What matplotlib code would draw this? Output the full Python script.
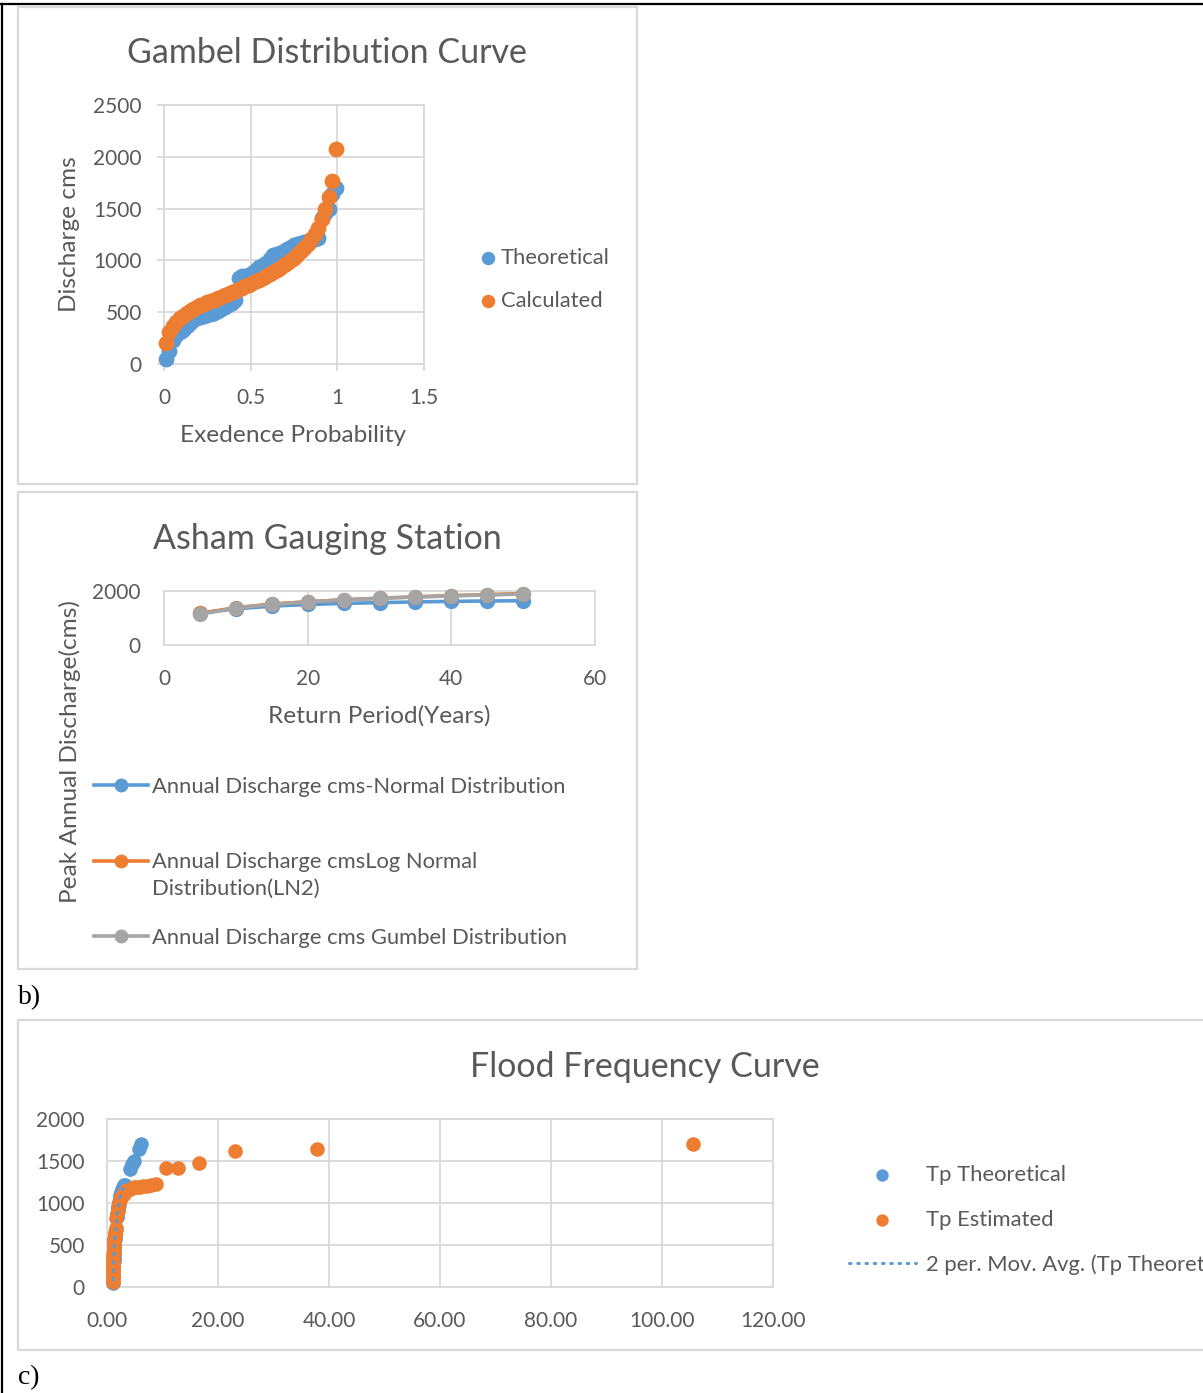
import matplotlib
matplotlib.use("Agg")
import matplotlib.pyplot as plt
from matplotlib.patches import Rectangle
from matplotlib.lines import Line2D
from matplotlib.ticker import FormatStrFormatter
import pandas as pd

W, H = 1203, 1393
plt.rcParams['font.family'] = ['Lato', 'DejaVu Sans']

TXT = '#595959'
GRID = '#D9D9D9'
BLUE = '#5B9BD5'
ORANGE = '#ED7D31'
GREY = '#A5A5A5'

# ---------------- Chart a) Gambel distribution curve ----------------
prob = [0.01, 0.03, 0.05, 0.07, 0.09, 0.11, 0.13, 0.15, 0.17, 0.19,
        0.21, 0.23, 0.25, 0.27, 0.29, 0.31, 0.33, 0.35, 0.37, 0.39,
        0.41, 0.43, 0.45, 0.47, 0.49, 0.51, 0.53, 0.55, 0.57, 0.59,
        0.61, 0.63, 0.65, 0.67, 0.69, 0.71, 0.73, 0.75, 0.77, 0.79,
        0.81, 0.83, 0.85, 0.87, 0.89, 0.91, 0.93, 0.95, 0.97, 0.99]
q_theoretical = [45, 130, 230, 280, 310, 330, 370, 400, 420, 440,
                 455, 465, 475, 485, 495, 510, 530, 550, 570, 590,
                 620, 830, 845, 850, 860, 875, 910, 940, 955, 975,
                 1010, 1050, 1065, 1075, 1090, 1110, 1130, 1145, 1160, 1170,
                 1180, 1190, 1200, 1210, 1220, 1410, 1460, 1500, 1640, 1700]
q_calculated = [205, 310, 365, 405, 440, 465, 490, 512, 532, 550,
                566, 580, 594, 608, 622, 636, 650, 664, 678, 692,
                706, 720, 735, 750, 766, 782, 798, 815, 832, 850,
                868, 888, 908, 930, 952, 975, 1000, 1027, 1056, 1088,
                1122, 1160, 1202, 1250, 1310, 1400, 1500, 1615, 1770, 2080]

# ---------------- Chart b) Asham gauging station ----------------
return_period = [5, 10, 15, 20, 25, 30, 35, 40, 45, 50]
q_normal = [1187, 1340, 1440, 1500, 1540, 1570, 1595, 1615, 1630, 1640]
q_lognormal = [1170, 1385, 1515, 1605, 1675, 1735, 1785, 1830, 1868, 1905]
q_gumbel = [1137, 1372, 1505, 1597, 1669, 1727, 1776, 1818, 1855, 1888]

# ---------------- Chart c) Flood frequency curve ----------------
tp_theoretical = [1.10, 1.12, 1.15, 1.17, 1.18, 1.19, 1.21, 1.23, 1.24, 1.25,
                  1.26, 1.27, 1.28, 1.29, 1.30, 1.31, 1.33, 1.35, 1.37, 1.39,
                  1.42, 1.75, 1.78, 1.79, 1.81, 1.84, 1.92, 1.99, 2.03, 2.08,
                  2.18, 2.30, 2.35, 2.38, 2.43, 2.50, 2.58, 2.64, 2.70, 2.78,
                  2.86, 2.95, 3.05, 3.15, 3.25, 4.10, 4.50, 4.80, 5.70, 6.20]
tp_estimated = [105.5, 37.8, 23.0, 16.5, 12.8, 10.6, 8.9, 8.0, 7.2, 6.5,
                5.9, 5.4, 4.9, 4.5, 4.1, 3.8, 3.5, 3.2, 3.0, 2.8,
                2.6, 2.4, 2.2, 2.0, 1.9, 1.8, 1.7, 1.6, 1.55, 1.5,
                1.45, 1.4, 1.35, 1.3, 1.27, 1.24, 1.21, 1.19, 1.17, 1.15,
                1.13, 1.12, 1.10, 1.09, 1.08, 1.07, 1.06, 1.05, 1.04, 1.03]
q_estimated = [1702, 1643, 1623, 1478, 1415, 1415, 1226, 1215, 1205, 1200,
               1195, 1190, 1185, 1180, 1170, 1160, 1150, 1130, 1110, 1090,
               1070, 1040, 1000, 960, 920, 870, 820, 700, 680, 650,
               620, 600, 570, 540, 510, 480, 450, 420, 390, 360,
               330, 300, 270, 240, 210, 180, 150, 120, 90, 60]


fig = plt.figure(figsize=(W / 100, H / 100), dpi=100)


def rect(x0, y0, x1, y1):
    return [x0 / W, 1 - y1 / H, (x1 - x0) / W, (y1 - y0) / H]


def fx(px):
    return px / W


def fy(py):
    return 1 - py / H


TITLE_FS = 24.5
LABEL_FS = 17.6
LEG_FS = 15.8
TICK_FS = 15

# page frame (black) and chart panels (light grey)
fig.add_artist(Line2D([0, 1], [fy(4), fy(4)], color='black', lw=1.6))
fig.add_artist(Line2D([fx(2), fx(2)], [fy(4), 0], color='black', lw=1.6))
for (x0, y0, x1, y1) in [(18, 7, 637, 484), (18, 492, 637, 969), (18, 1020, 1215, 1350)]:
    fig.add_artist(Rectangle((fx(x0), fy(y1)), (x1 - x0) / W, (y1 - y0) / H,
                             transform=fig.transFigure, fill=False, ec=GRID, lw=1.6))
fig.text(fx(18), fy(998), 'b)', family='Liberation Serif', fontsize=20, va='center', ha='left', color='black')
fig.text(fx(18), fy(1378), 'c)', family='Liberation Serif', fontsize=20, va='center', ha='left', color='black')


def style(ax, ticklen):
    for s in ax.spines.values():
        s.set_color(GRID)
        s.set_linewidth(1.3)
    ax.grid(True, color=GRID, lw=1.3)
    ax.set_axisbelow(True)
    ax.tick_params(colors=TXT, labelsize=TICK_FS, length=ticklen, width=1.3)
    ax.tick_params(color=GRID)


# ---------- a) ----------
ax1 = fig.add_axes(rect(164, 105, 424, 364))
style(ax1, 5)
ax1.tick_params(axis='y', pad=11)
ax1.tick_params(axis='x', pad=12)
ax1.scatter(prob, q_theoretical, s=130, color=BLUE, lw=0, label='Theoretical', clip_on=False, zorder=3)
ax1.scatter(prob, q_calculated, s=130, color=ORANGE, lw=0, label='Calculated', clip_on=False, zorder=4)
ax1.set_xlim(0, 1.5)
ax1.set_ylim(0, 2500)
ax1.set_xticks([0, 0.5, 1, 1.5])
ax1.set_xticklabels(['0', '0.5', '1', '1.5'])
ax1.set_yticks([0, 500, 1000, 1500, 2000, 2500])
ax1.set_title('Gambel Distribution Curve', fontsize=TITLE_FS, color=TXT, x=(327 - 164) / 260, pad=30)
ax1.set_xlabel('Exedence Probability', fontsize=LABEL_FS, color=TXT)
ax1.xaxis.set_label_coords(fx(293), fy(436), transform=fig.transFigure)
ax1.set_ylabel('Discharge cms', fontsize=LABEL_FS, color=TXT)
ax1.yaxis.set_label_coords(fx(70), fy(234), transform=fig.transFigure)
ax1.xaxis.label.set_va('center')
ax1.yaxis.label.set_va('center')
ax1.legend(loc='center left', bbox_to_anchor=(fx(479), fy(279.5)), bbox_transform=fig.transFigure,
           frameon=False, fontsize=LEG_FS, handlelength=0.8, handletextpad=0.2, labelspacing=1.05,
           borderpad=0, borderaxespad=0, scatterpoints=1, markerscale=0.85, labelcolor=TXT)

# ---------- b) ----------
ax2 = fig.add_axes(rect(164, 591, 595, 645))
style(ax2, 0)
ax2.tick_params(axis='y', pad=17)
ax2.tick_params(axis='x', pad=17)
ax2.plot(return_period, q_normal, color=BLUE, lw=2.6, marker='o', ms=10,
         label='Annual Discharge cms-Normal Distribution', clip_on=False, zorder=3)
ax2.plot(return_period, q_lognormal, color=ORANGE, lw=2.6, marker='o', ms=10,
         label='Annual Discharge cmsLog Normal', clip_on=False, zorder=4)
ax2.plot(return_period, q_gumbel, color=GREY, lw=2.6, marker='o', ms=10,
         label='Annual Discharge cms Gumbel Distribution', clip_on=False, zorder=5)
ax2.set_xlim(0, 60)
ax2.set_ylim(0, 2000)
ax2.set_xticks([0, 20, 40, 60])
ax2.set_yticks([0, 2000])
ax2.yaxis.grid(False)
ax2.set_title('Asham Gauging Station', fontsize=TITLE_FS, color=TXT, x=(327 - 164) / 431, pad=30)
ax2.set_xlabel('Return Period(Years)', fontsize=LABEL_FS, color=TXT)
ax2.xaxis.set_label_coords(fx(379), fy(716), transform=fig.transFigure)
ax2.set_ylabel('Peak Annual Discharge(cms)', fontsize=LABEL_FS, color=TXT)
ax2.yaxis.set_label_coords(fx(70), fy(752), transform=fig.transFigure)
ax2.xaxis.label.set_va('center')
ax2.yaxis.label.set_va('center')
ax2.legend(loc='upper left', bbox_to_anchor=(fx(94), fy(777)), bbox_transform=fig.transFigure,
           frameon=False, fontsize=LEG_FS, handlelength=2.45, handletextpad=0.2, labelspacing=2.52,
           borderpad=0, borderaxespad=0, markerscale=0.9, labelcolor=TXT)
fig.text(fx(152), fy(889), 'Distribution(LN2)', fontsize=LEG_FS, color=TXT, va='center', ha='left')

# ---------- c) ----------
ax3 = fig.add_axes(rect(107, 1119, 773, 1287))
style(ax3, 0)
ax3.tick_params(axis='y', pad=16)
ax3.tick_params(axis='x', pad=17)
ax3.scatter(tp_theoretical, q_theoretical, s=110, color=BLUE, lw=0, label='Tp Theoretical', clip_on=False, zorder=3)
ax3.scatter(tp_estimated, q_estimated, s=110, color=ORANGE, lw=0, label='Tp Estimated', clip_on=False, zorder=4)
ma = pd.DataFrame({'x': tp_theoretical, 'y': q_theoretical}).sort_values('x')
ma['y_ma'] = ma['y'].rolling(2).mean()
ax3.plot(ma['x'], ma['y_ma'], color=BLUE, lw=2.2, ls=(0, (0.5, 2.2)), dash_capstyle='round',
         label='2 per. Mov. Avg. (Tp Theoretical)', zorder=5)
ax3.set_xlim(0, 120)
ax3.set_ylim(0, 2000)
ax3.set_xticks([0, 20, 40, 60, 80, 100, 120])
ax3.set_yticks([0, 500, 1000, 1500, 2000])
ax3.xaxis.set_major_formatter(FormatStrFormatter('%.2f'))
ax3.set_title('Flood Frequency Curve', fontsize=TITLE_FS, color=TXT, x=(645 - 107) / 666, pad=30)
ax3.legend(loc='upper left', bbox_to_anchor=(fx(849), fy(1165)), bbox_transform=fig.transFigure,
           frameon=False, fontsize=LEG_FS, handlelength=3.05, handletextpad=0.46, labelspacing=1.12,
           borderpad=0, borderaxespad=0, scatterpoints=1, markerscale=0.85, labelcolor=TXT)

fig.savefig('out.png', dpi=100)
